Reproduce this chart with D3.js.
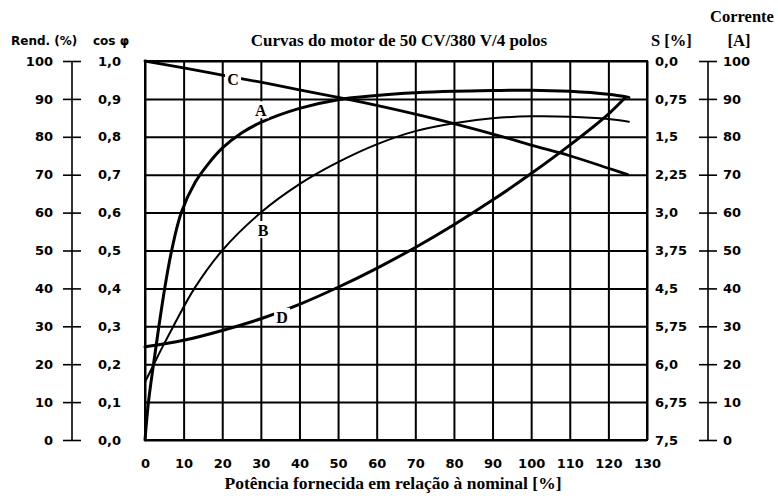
<!DOCTYPE html>
<html>
<head>
<meta charset="utf-8">
<script src="https://cdn.jsdelivr.net/npm/d3@7"></script>
<style>
  body { margin: 0; background: #fff; }
  .num text { font-family: "DejaVu Sans", sans-serif; font-weight: bold; font-size: 13px; fill: #000; }
  .serif { font-family: "Liberation Serif", "Times New Roman", serif; font-weight: bold; fill: #000; }
  .sans { font-family: "DejaVu Sans", sans-serif; font-weight: bold; fill: #000; }
</style>
</head>
<body>
<div id="chart"></div>
<script>
// axis ticks and labels
const xTicks = d3.range(0, 131, 10);
const leftTicks = d3.range(0, 101, 10);
const cosLabels = ["0,0", "0,1", "0,2", "0,3", "0,4", "0,5", "0,6", "0,7", "0,8", "0,9", "1,0"];
const sLabels = ["7,5", "6,75", "6,0", "5,75", "4,5", "3,75", "3,0", "2,25", "1,5", "0,75", "0,0"];
const correnteLabels = ["0", "10", "20", "30", "40", "50", "60", "70", "80", "90", "100"];

// curves: [potência %, valor na escala 0-100]
const curveA = [[0,0],[0.9,10],[2.2,20],[3.6,30],[5.1,40],[6.9,50],[9.4,60],[13,68],[16.5,73],[20,77],
  [25,81],[30,83.8],[40,87.5],[50,89.8],[60,90.9],[70,91.6],[80,92],[90,92.2],[100,92.3],[110,92],[120,91.2],[125.3,90.4]];
const curveB = [[0,15.3],[2.3,20],[4.5,24.5],[7.6,30.5],[12.8,40],[20,50],[30,60],[40,67.5],[50,73.3],
  [60,78],[70,81.5],[80,83.6],[90,84.9],[100,85.4],[110,85.3],[120,84.7],[125.3,84]];
const curveC = [[0,100],[10,98.2],[20,96.3],[30,94.4],[40,92.4],[52,90],[60,88.3],[70,86],[80,83.5],
  [92.7,80],[100,77.8],[110,75],[120,71.7],[125,70]];
const curveD = [[0,24.6],[10,26.3],[20,28.9],[30,32],[40,35.8],[50,40.3],[60,45.3],[70,50.8],[80,56.8],
  [90,63.3],[100,70.3],[110,77.8],[120,86],[124.5,90.5]];
const curveNames = ["A", "B", "C", "D"];
const labelAt = [[30, 87], [30.6, 55.4], [22.8, 95.3], [35.5, 32.5]];

const width = 778, height = 496;
const svg = d3.select("#chart").append("svg")
    .attr("width", width)
    .attr("height", height);

const x = d3.scaleLinear().domain([0, 130]).range([145, 647]);
const y = d3.scaleLinear().domain([0, 100]).range([440, 61]);

// grid
svg.append("g")
    .attr("transform", `translate(0,${y(0)})`)
    .call(d3.axisBottom(x).tickValues(xTicks).tickSize(-(y(0) - y(100))).tickFormat(""))
    .call(g => g.select(".domain").remove())
    .selectAll("line").attr("stroke", "#000").attr("stroke-width", 2);

svg.append("g")
    .attr("transform", `translate(${x(0)},0)`)
    .call(d3.axisLeft(y).tickValues(leftTicks).tickSize(-(x(130) - x(0))).tickFormat(""))
    .call(g => g.select(".domain").remove())
    .selectAll("line").attr("stroke", "#000").attr("stroke-width", 2);

svg.append("rect")
    .attr("x", x(0)).attr("y", y(100))
    .attr("width", x(130) - x(0)).attr("height", y(0) - y(100))
    .attr("fill", "none").attr("stroke", "#000").attr("stroke-width", 2);

// x tick labels
svg.append("g")
    .attr("class", "num")
    .attr("transform", `translate(0,${y(0)})`)
    .call(d3.axisBottom(x).tickValues(xTicks).tickSize(0).tickPadding(19))
    .call(g => g.select(".domain").remove());

// Rend. axis
svg.append("g")
    .attr("class", "num")
    .attr("transform", "translate(81,0)")
    .call(d3.axisLeft(y).tickValues(leftTicks).tickSize(18).tickPadding(10))
    .call(g => g.select(".domain").remove())
    .selectAll("line").attr("stroke", "#000").attr("stroke-width", 1.6);
svg.append("line")
    .attr("x1", 72).attr("x2", 72).attr("y1", y(100)).attr("y2", y(0))
    .attr("stroke", "#000").attr("stroke-width", 1.6);

// cos phi labels
svg.append("g")
    .attr("class", "num")
    .attr("transform", "translate(98,0)")
    .call(d3.axisRight(y).tickValues(leftTicks).tickSize(0).tickPadding(0).tickFormat((d, i) => cosLabels[i]))
    .call(g => g.select(".domain").remove());

// S labels
svg.append("g")
    .attr("class", "num")
    .attr("transform", `translate(${x(130)},0)`)
    .call(d3.axisRight(y).tickValues(leftTicks).tickSize(0).tickPadding(8).tickFormat((d, i) => sLabels[i]))
    .call(g => g.select(".domain").remove());

// Corrente axis
svg.append("g")
    .attr("class", "num")
    .attr("transform", "translate(699,0)")
    .call(d3.axisRight(y).tickValues(leftTicks).tickSize(18).tickPadding(6).tickFormat((d, i) => correnteLabels[i]))
    .call(g => g.select(".domain").remove())
    .selectAll("line").attr("stroke", "#000").attr("stroke-width", 1.6);
svg.append("line")
    .attr("x1", 708).attr("x2", 708).attr("y1", y(100)).attr("y2", y(0))
    .attr("stroke", "#000").attr("stroke-width", 1.6);

// curves
const line = d3.line().x(d => x(d[0])).y(d => y(d[1])).curve(d3.curveCatmullRom.alpha(0.5));
const curves = [curveA, curveB, curveC, curveD];
const widths = [3, 2, 2.8, 3];
svg.append("g")
    .selectAll("path")
    .data(curves)
    .join("path")
      .attr("d", line)
      .attr("fill", "none")
      .attr("stroke", "#000")
      .attr("stroke-width", (d, i) => widths[i])
      .attr("stroke-linejoin", "round")
      .attr("stroke-linecap", "round");

// curve letters
const lab = svg.append("g")
    .selectAll("g")
    .data(curveNames)
    .join("g")
      .attr("transform", (d, i) => `translate(${x(labelAt[i][0])},${y(labelAt[i][1])})`);
lab.append("rect")
    .attr("x", -8).attr("y", -9).attr("width", 16).attr("height", 17)
    .attr("fill", "#fff");
lab.append("text")
    .attr("class", "serif")
    .attr("font-size", 16)
    .attr("text-anchor", "middle")
    .attr("dy", "0.36em")
    .text(d => d);

// titles
svg.append("text").attr("class", "sans").attr("font-size", 12)
    .attr("x", 11).attr("y", 45).text("Rend. (%)");
svg.append("text").attr("class", "sans").attr("font-size", 12)
    .attr("x", 93).attr("y", 45).text("cos φ");
svg.append("text").attr("class", "serif").attr("font-size", 17)
    .attr("x", 399).attr("y", 46).attr("text-anchor", "middle")
    .text("Curvas do motor de 50 CV/380 V/4 polos");
svg.append("text").attr("class", "serif").attr("font-size", 16.5)
    .attr("x", 651).attr("y", 46).text("S [%]");
svg.append("text").attr("class", "serif").attr("font-size", 16.5)
    .attr("x", 739).attr("y", 46).attr("text-anchor", "middle").text("[A]");
svg.append("text").attr("class", "serif").attr("font-size", 16.5)
    .attr("x", 742).attr("y", 22).attr("text-anchor", "middle").text("Corrente");
svg.append("text").attr("class", "serif").attr("font-size", 17.5)
    .attr("x", 393).attr("y", 489).attr("text-anchor", "middle")
    .text("Potência fornecida em relação à nominal [%]");
</script>
</body>
</html>
